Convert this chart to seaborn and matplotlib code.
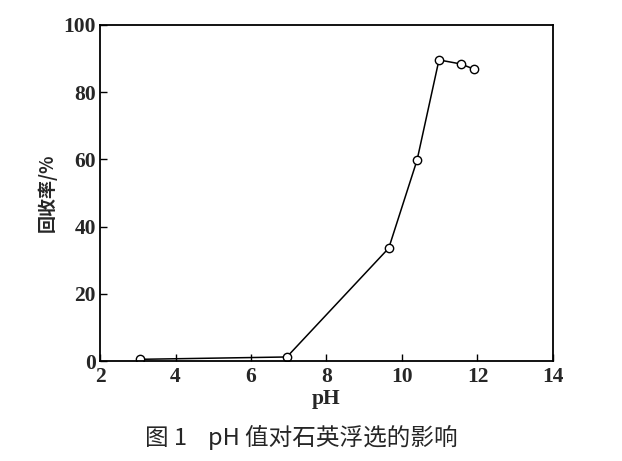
import numpy as np
import pandas as pd
import seaborn as sns
import matplotlib.pyplot as plt

ph = [3.05, 6.95, 9.65, 10.4, 10.98, 11.56, 11.9]
recovery = [0.5, 1.2, 33.6, 59.8, 89.6, 88.4, 86.9]
xticks = [2, 4, 6, 8, 10, 12, 14]
yticks = [0, 20, 40, 60, 80, 100]

df = pd.DataFrame({'pH': ph, 'rec': recovery})

sns.set_style('white')
plt.rcParams['font.family'] = ['Liberation Serif', 'Noto Sans CJK SC', 'DejaVu Sans']

fig = plt.figure(figsize=(6.22, 4.61), dpi=100)
ax = fig.add_axes([0.1608, 0.2169, 0.7282, 0.7289])

sns.lineplot(data=df, x='pH', y='rec', ax=ax, color='black', linewidth=1.1,
             marker='o', markersize=6, markerfacecolor='white',
             markeredgecolor='black', markeredgewidth=1.0)

ax.set_xlim(2, 14)
ax.set_ylim(0, 100)
ax.set_xticks(xticks)
ax.set_yticks(yticks)
ax.tick_params(axis='both', direction='in', length=5, width=1, color='black',
               labelsize=15.5, bottom=True, left=True, top=False, right=False)
ax.tick_params(axis='x', pad=4)
ax.tick_params(axis='y', pad=3)
for lab in ax.get_xticklabels() + ax.get_yticklabels():
    lab.set_fontweight('bold')
    lab.set_family('Liberation Serif')
for sp in ax.spines.values():
    sp.set_color('black')
    sp.set_linewidth(1.3)

ax.set_xlabel('pH', fontsize=15.5, fontweight='bold', family='Liberation Serif', labelpad=2)
ax.set_ylabel('回收率/%', fontsize=13, fontweight='bold', family=['Noto Sans CJK SC', 'DejaVu Sans'], labelpad=5)

fig.text(0.484, 0.052, '图 1    pH 值对石英浮选的影响', fontsize=17,
         family=['Noto Sans CJK SC', 'DejaVu Sans'], ha='center', va='center')

fig.savefig('out.png', dpi=100)
